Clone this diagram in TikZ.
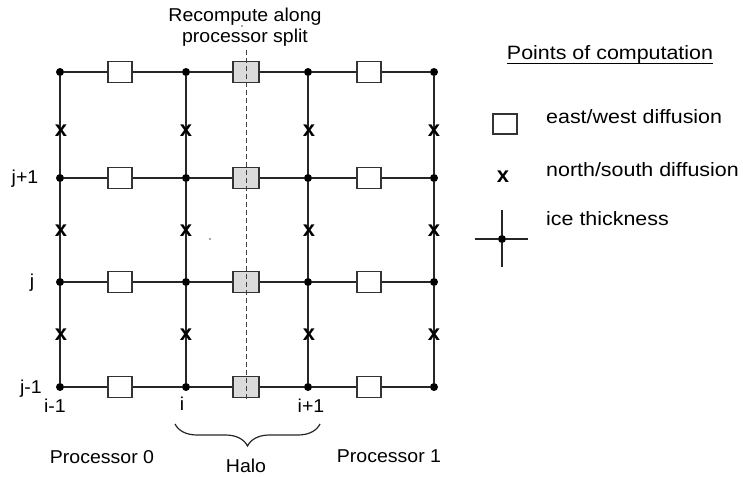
\documentclass[tikz,border=0pt]{standalone}
\usepackage{fontspec}
\setmainfont{Liberation Sans}
\newfontfamily\labelfont[FakeStretch=1.05]{Liberation Sans}
\newfontfamily\legendfont[FakeStretch=1.11]{Liberation Sans}
\usetikzlibrary{calc,decorations.pathreplacing}

\begin{document}
\begin{tikzpicture}[x=1pt,y=-1pt,
  gridpt/.style={circle,fill=black,inner sep=0pt,minimum size=8pt},
  edge/.style={line width=1.3pt,draw=black!85},
  ewbox/.style={draw=black!80,line width=1.3pt,fill=white,inner sep=0pt,
                minimum width=24pt,minimum height=21pt},
  halobox/.style={ewbox,fill=black!14,minimum width=26pt},
  nsmark/.style={font=\fontsize{22}{22}\selectfont\bfseries,inner sep=0pt},
  lbl/.style={font=\labelfont\fontsize{18.6}{21}\selectfont,inner sep=0pt,anchor=base},
  leg/.style={font=\legendfont\fontsize{19.3}{22}\selectfont,inner sep=0pt,anchor=base west},
  split/.style={line width=0.7pt,draw=black!75,dash pattern=on 5pt off 3pt},
  speck/.style={circle,fill=black!70,inner sep=0pt,minimum size=1.6pt}]
\useasboundingbox (0,0) rectangle (743,476);

% grid points (ice thickness)
\foreach \c/\x in {1/60,2/186,3/308,4/434}
  \foreach \r/\y in {1/72,2/178,3/282,4/387}
    \node[gridpt] (p\c\r) at (\x,\y) {};

% grid lines
\foreach \r in {1,...,4}
  \draw[edge] (p1\r) -- (p2\r) -- (p3\r) -- (p4\r);
\foreach \c in {1,...,4}
  \draw[edge] (p\c1) -- (p\c2) -- (p\c3) -- (p\c4);

% east/west diffusion points
\foreach \r/\y in {1/72,2/178,3/282,4/387} {
  \node[ewbox]   (ewa\r) at (120,\y) {};
  \node[halobox] (ewb\r) at (246,\y) {};
  \node[ewbox]   (ewc\r) at (369,\y) {};
}

% north/south diffusion points
\foreach \c/\x in {1/61,2/186,3/309,4/434}
  \foreach \r/\y in {1/131,2/231,3/335}
    \node[nsmark] (ns\c\r) at (\x,\y) {x};

% processor split
\coordinate (splitTop) at (246,50);
\coordinate (splitBot) at (246,400);
\draw[split] (splitTop) -- (splitBot);
\node[speck] (s1) at (242,26) {};
\node[speck] (s2) at (210,239) {};

% labels
\node[lbl] (recompA) at (245,22) {Recompute along};
\node[lbl] (recompB) at (245,43) {processor split};
\node[lbl] (jp) at (25,183) {j+1};
\node[lbl] (j0) at (32,287) {j};
\node[lbl] (jm) at (31,393) {j-1};
\node[lbl] (im) at (55,412) {i-1};
\node[lbl] (i0) at (182,410) {i};
\node[lbl] (ip) at (311,412) {i+1};
\node[lbl] (proc0) at (102,463) {Processor 0};
\node[lbl] (halo) at (246,472) {Halo};
\node[lbl] (proc1) at (389,462) {Processor 1};

% halo brace
\coordinate (haloL) at (175,424);
\coordinate (haloR) at (320,424);
\draw[line width=1.2pt,draw=black!85,decorate,decoration={brace,mirror,amplitude=22pt}]
  (haloL) -- (haloR);

% legend
\node[font=\legendfont\fontsize{19.3}{22}\selectfont,inner sep=0pt,anchor=base] (title) at (610,60) {Points of computation};
\draw[line width=1pt] ($(title.base west)+(0,4)$) -- ($(title.base east)+(0,4)$);

\node[ewbox,minimum width=24pt,minimum height=20pt] (legbox) at (505,124) {};
\node[leg] (legew) at (546,124) {east/west diffusion};

\node[nsmark] (legx) at (503,177) {x};
\node[leg] (legns) at (546,176) {north/south diffusion};

\node[gridpt] (icedot) at (502,239) {};
\coordinate (iceL) at (475,239);
\coordinate (iceR) at (528,239);
\coordinate (iceT) at (502,210);
\coordinate (iceB) at (502,267);
\draw[edge] (iceL) -- (icedot) -- (iceR);
\draw[edge] (iceT) -- (icedot) -- (iceB);
\node[leg] (legice) at (546,225) {ice thickness};
\end{tikzpicture}
\end{document}
